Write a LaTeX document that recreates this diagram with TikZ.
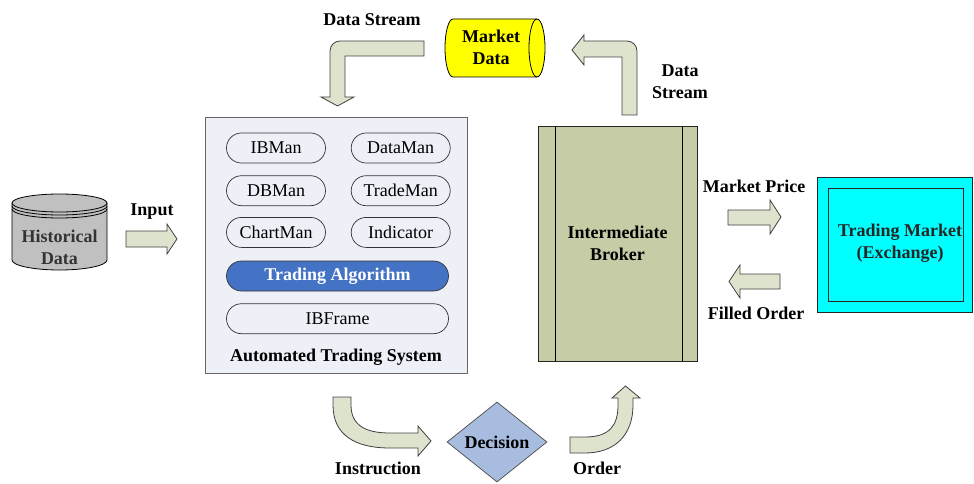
\documentclass[tikz,border=0pt]{standalone}
\usepackage{fontspec}
\setmainfont{Liberation Serif}
\usetikzlibrary{shapes.geometric,positioning}

\definecolor{flowfill}{HTML}{DEE3CD}
\definecolor{atsfill}{HTML}{EDF0F7}
\definecolor{algofill}{HTML}{4472C4}
\definecolor{brokerfill}{HTML}{C6CDA6}
\definecolor{decfill}{HTML}{A8BCE0}
\definecolor{histfill}{HTML}{C0C0C0}
\definecolor{mdfill}{HTML}{FFFF00}
\definecolor{tmfill}{HTML}{00FFFF}

\begin{document}
\begin{tikzpicture}[x=1pt, y=-1pt,
  every node/.style={font=\fontsize{18}{21}\selectfont},
  lbl/.style={font=\fontsize{18}{22}\selectfont\bfseries, align=center},
  pill/.style={rectangle, rounded corners=15pt, draw=black!80, line width=0.7pt,
               minimum width=99pt, minimum height=30pt, inner sep=0pt},
  widepill/.style={pill, minimum width=222pt},
  flow/.style={draw=black!75, fill=flowfill, line width=0.8pt, line join=miter}
]
  \useasboundingbox (0,0) rectangle (974,484);

  % historical data store
  \fill[histfill] (12,203) -- (12,260) arc (180:360:47.5pt and 10pt) -- (107,203) -- cycle;
  \draw[line width=0.8pt] (12,203) -- (12,260) arc (180:360:47.5pt and 10pt) -- (107,203);
  \draw[fill=histfill, line width=0.8pt] (59.5,203) ellipse (47.5pt and 9pt);
  \draw[line width=0.8pt] (12,206) arc (180:360:47.5pt and 9pt);
  \draw[line width=0.8pt] (12,209) arc (180:360:47.5pt and 9pt);
  \node[lbl, text=black!80] (hist) at (59.5,247) {Historical\\Data};

  % automated trading system
  \node[rectangle, draw=black!60, fill=atsfill, line width=0.8pt,
        minimum width=262pt, minimum height=256pt] (ats) at (336,245) {};
  \node[pill] (ibman) at (276,148) {IBMan};
  \node[pill, right=25pt of ibman] (dataman) {DataMan};
  \node[pill, below=12pt of ibman] (dbman) {DBMan};
  \node[pill, right=25pt of dbman] (trademan) {TradeMan};
  \node[pill, below=11pt of dbman] (chartman) {ChartMan};
  \node[pill, right=25pt of chartman] (indicator) {Indicator};
  \node[widepill, fill=algofill, text=white, font=\fontsize{18}{21}\selectfont\bfseries] (algo) at (337.5,276) {Trading Algorithm};
  \node[widepill, below=12pt of algo] (ibframe) {IBFrame};
  \node[lbl] (atslabel) at (336,357) {Automated Trading System};

  % market data store
  \fill[mdfill] (537,19) -- (453,19) arc (90:270:8pt and 29pt) -- (537,77) arc (270:450:8pt and 29pt) -- cycle;
  \draw[line width=0.8pt] (537,19) -- (453,19) arc (90:270:8pt and 29pt) -- (537,77) arc (270:450:8pt and 29pt);
  \draw[line width=0.8pt] (537,19) arc (90:270:8pt and 29pt);
  \node[lbl] (mdata) at (491,47) {Market\\Data};

  % broker
  \node[rectangle, draw=black!85, fill=brokerfill, line width=0.8pt,
        minimum width=159pt, minimum height=235pt] (broker) at (617.5,243.5) {};
  \draw[line width=0.8pt] (555,126) -- (555,361);
  \draw[line width=0.8pt] (682,126) -- (682,361);
  \node[lbl] (brokerlabel) at (broker) {Intermediate\\Broker};

  % trading market
  \node[rectangle, draw=black!85, fill=tmfill, line width=0.8pt,
        minimum width=155pt, minimum height=135pt] (market) at (894.5,244.5) {};
  \node[rectangle, draw=black!85, line width=0.8pt,
        minimum width=135pt, minimum height=113pt] (marketin) at (895.5,244.5) {};
  \node[lbl, text=black!85] (marketlabel) at (900,243) {Trading Market\\(Exchange)};

  % decision
  \node[diamond, draw=black!70, fill=decfill, line width=0.7pt, aspect=1.25,
        minimum width=100pt, minimum height=80pt, inner sep=0pt,
        font=\fontsize{18}{21}\selectfont\bfseries] (decision) at (497,442) {Decision};

  % block arrows
  \draw[flow] (126,231) -- (167,231) -- (167,224) -- (177,239) -- (167,254) -- (167,247) -- (126,247) -- cycle;
  \draw[flow] (728,210) -- (770,210) -- (770,200) -- (781,217) -- (770,234) -- (770,225) -- (728,225) -- cycle;
  \draw[flow] (780,274) -- (740,274) -- (740,265) -- (729,281.5) -- (740,298) -- (740,289) -- (780,289) -- cycle;
  \draw[flow] (424,41) -- (340,41) arc (90:180:10pt) -- (330,97) -- (321,97) -- (337.5,106)
    -- (354,97) -- (345,97) -- (345,56) -- (424,56) -- cycle;
  \draw[flow] (622,115) -- (622,57) -- (584,57) -- (584,65) -- (572,50) -- (584,35)
    -- (584,41) -- (627,41) arc (90:0:10pt) -- (637,115) -- cycle;
  \draw[flow] (333,397) -- (333,405) .. controls (333,435) and (355,448) .. (390,448)
    -- (418,448) -- (418,456) -- (431,441) -- (418,426) -- (418,433) -- (390,433)
    .. controls (365,433) and (351,425) .. (351,405) -- (351,397) -- cycle;
  \draw[flow] (570,437) -- (585,437) .. controls (610,437) and (618,425) .. (618,405)
    -- (618,398) -- (612,398) -- (625.5,386) -- (640,398) -- (633,398) -- (633,405)
    .. controls (633,435) and (615,453) .. (585,453) -- (570,453) -- cycle;

  % labels
  \node[lbl] (inputlabel) at (152,212) {Input};
  \node[lbl] (streamleft) at (372,20) {Data Stream};
  \node[lbl] (streamright) at (680,82) {Data\\Stream};
  \node[lbl] (pricelabel) at (754,186) {Market Price};
  \node[lbl] (filledlabel) at (756,313) {Filled Order};
  \node[lbl] (instrlabel) at (378,468) {Instruction};
  \node[lbl] (orderlabel) at (597,468) {Order};
\end{tikzpicture}
\end{document}
